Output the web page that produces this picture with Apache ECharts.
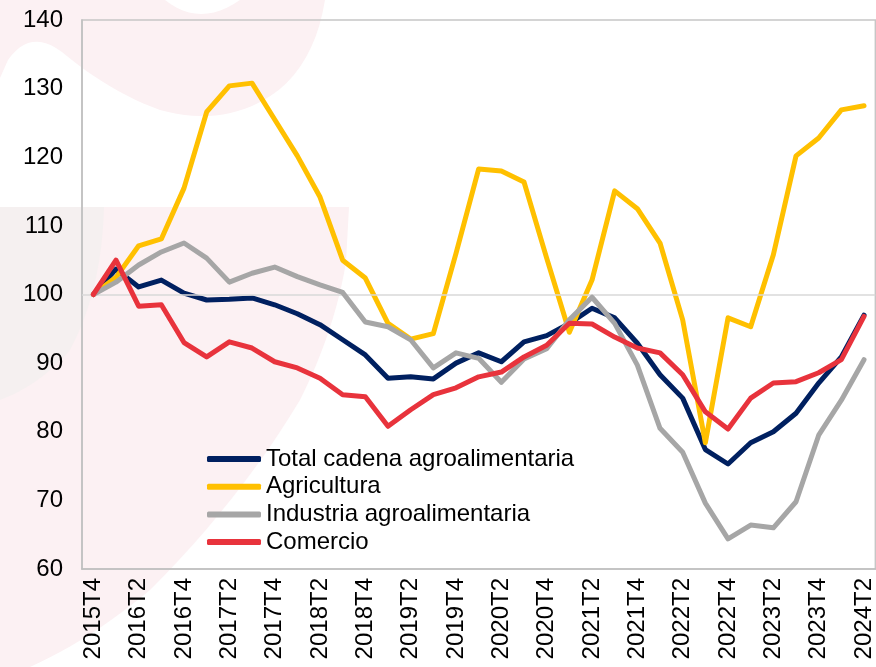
<!DOCTYPE html>
<html>
<head>
<meta charset="utf-8">
<script src="https://cdn.jsdelivr.net/npm/echarts@6/dist/echarts.min.js"></script>
<style>
html,body{margin:0;padding:0;background:#fff;}
#chart{width:876px;height:667px;}
</style>
</head>
<body>
<div id="chart"></div>
<script>
const categories = ["2015T4","2016T1","2016T2","2016T3","2016T4","2017T1","2017T2","2017T3","2017T4","2018T1","2018T2","2018T3","2018T4","2019T1","2019T2","2019T3","2019T4","2020T1","2020T2","2020T3","2020T4","2021T1","2021T2","2021T3","2021T4","2022T1","2022T2","2022T3","2022T4","2023T1","2023T2","2023T3","2023T4","2024T1","2024T2"];
const total = [100, 103.7, 101.1, 102.1, 100.2, 99.2, 99.3, 99.5, 98.5, 97.2, 95.6, 93.4, 91.2, 87.8, 88.0, 87.7, 90.0, 91.5, 90.2, 93.1, 94.0, 95.8, 98.0, 96.6, 92.9, 88.3, 84.9, 77.4, 75.3, 78.4, 80.0, 82.7, 87.1, 90.9, 97.0];
const agricultura = [100, 102.5, 107.1, 108.1, 115.5, 126.6, 130.4, 130.8, 125.5, 120.2, 114.2, 105.0, 102.4, 95.8, 93.5, 94.3, 106.0, 118.3, 118.0, 116.4, 105.3, 94.5, 102.1, 115.1, 112.5, 107.5, 96.3, 78.4, 96.6, 95.3, 105.8, 120.2, 122.8, 126.9, 127.5];
const industria = [100, 101.8, 104.3, 106.2, 107.5, 105.3, 101.8, 103.1, 104.0, 102.6, 101.4, 100.3, 96.0, 95.3, 93.4, 89.3, 91.5, 90.7, 87.2, 90.6, 92.1, 96.3, 99.6, 95.8, 89.7, 80.5, 77.0, 69.6, 64.4, 66.4, 66.0, 69.8, 79.5, 84.6, 90.5];
const comercio = [100, 105.0, 98.3, 98.5, 93.0, 90.9, 93.1, 92.2, 90.2, 89.3, 87.8, 85.4, 85.1, 80.8, 83.2, 85.4, 86.4, 88.0, 88.7, 90.9, 92.6, 95.8, 95.7, 93.8, 92.2, 91.5, 88.3, 82.9, 80.4, 84.9, 87.1, 87.3, 88.6, 90.5, 96.8];
const seriesNames = ["Total cadena agroalimentaria", "Agricultura", "Industria agroalimentaria", "Comercio"];
const seriesColors = ["#002060", "#FFC000", "#A6A6A6", "#E8333C"];
const yTicks = {min: 60, max: 140, interval: 10};

// background watermark outline helper (decoration only)
function outline(segs) {
  const pts = [];
  let cur = segs[0];
  pts.push(cur);
  for (let i = 1; i < segs.length; i++) {
    const s = segs[i];
    if (s.length === 2) { pts.push(s); cur = s; }
    else {
      const [cx, cy, ex, ey] = s;
      for (let t = 1; t <= 12; t++) {
        const u = t / 12;
        pts.push([(1-u)*(1-u)*cur[0] + 2*(1-u)*u*cx + u*u*ex, (1-u)*(1-u)*cur[1] + 2*(1-u)*u*cy + u*u*ey]);
      }
      cur = [ex, ey];
    }
  }
  return pts;
}

const chart = echarts.init(document.getElementById('chart'), null, {renderer: 'canvas'});
const font = '"Liberation Sans", Arial, sans-serif';
const dataSets = [total, agricultura, industria, comercio];

const option = {
  backgroundColor: '#ffffff',
  animation: false,
  textStyle: {fontFamily: font},
  graphic: [
    {type: 'polygon', z: -10, silent: true,
     shape: {points: outline([[0,0],[165,0],[200,28,240,0],[325,0],[312,80,252,106],[210,124,160,110],[110,92,62,52],[30,28,8,60],[0,78]])},
     style: {fill: '#fcf1f3'}},
    {type: 'polygon', z: -10, silent: true,
     shape: {points: outline([[0,207],[349,207],[346,262],[335,330,300,400],[240,500,150,590],[90,640,30,667],[0,667]])},
     style: {fill: '#fcf1f3'}},
    {type: 'polygon', z: -9, silent: true,
     shape: {points: outline([[0,207],[104,207],[102,290,70,350],[40,385,0,400]])},
     style: {fill: '#f5f0f0'}}
  ],
  grid: {left: 82, top: 20, width: 795, height: 549, show: true, borderColor: '#c6c6c6', borderWidth: 1.5, backgroundColor: 'transparent'},
  legend: {
    orient: 'vertical', left: 202, top: 442,
    itemWidth: 54, itemHeight: 6, itemGap: 3.7,
    icon: 'roundRect',
    textStyle: {fontSize: 24, color: '#000', fontFamily: font, lineHeight: 24},
    data: seriesNames
  },
  xAxis: {
    type: 'category', data: categories, boundaryGap: true,
    axisLine: {show: true, lineStyle: {color: '#bfbfbf', width: 1.5}},
    axisTick: {show: false},
    splitLine: {show: false},
    axisLabel: {rotate: 90, interval: 1, fontSize: 24, color: '#000', margin: 9, fontFamily: font}
  },
  yAxis: {
    type: 'value', min: yTicks.min, max: yTicks.max, interval: yTicks.interval,
    axisLine: {show: true, lineStyle: {color: '#bfbfbf', width: 1.5}},
    axisTick: {show: false},
    splitLine: {show: false},
    axisLabel: {fontSize: 24, color: '#000', margin: 19, fontFamily: font}
  },
  series: seriesNames.map((name, k) => {
    const s = {
      name: name, type: 'line', data: dataSets[k], symbol: 'none',
      color: seriesColors[k],
      lineStyle: {width: 5, color: seriesColors[k], cap: 'round', join: 'round'},
      z: 3 + k
    };
    if (k === 0) {
      s.markLine = {
        silent: true, symbol: 'none', label: {show: false},
        lineStyle: {color: '#d9d9d9', width: 1.5, type: 'solid'},
        data: [{yAxis: 100}]
      };
    }
    return s;
  })
};
chart.setOption(option);
</script>
</body>
</html>
